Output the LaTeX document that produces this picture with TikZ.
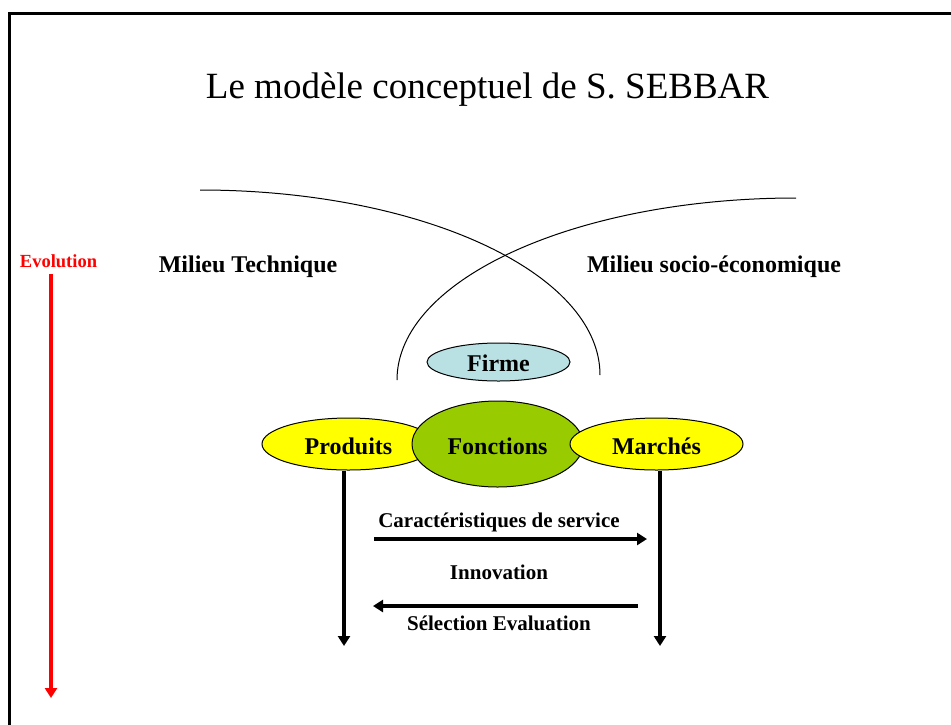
\documentclass[tikz,border=0pt]{standalone}
\usepackage{fontspec}
\setmainfont{Liberation Serif}
\usetikzlibrary{shapes.geometric,arrows.meta}
\definecolor{firmecol}{RGB}{185,224,227}
\definecolor{foncol}{RGB}{153,204,0}
\definecolor{jaune}{RGB}{255,255,0}
\definecolor{rouge}{RGB}{255,0,0}
\tikzset{
  lbl/.style={font=\fontsize{24}{26}\selectfont\bfseries, inner sep=0pt, anchor=base},
  mid/.style={font=\fontsize{21}{23}\selectfont\bfseries, inner sep=0pt, anchor=base},
  ell/.style={ellipse, draw=black, line width=1pt, inner sep=0pt, text depth=0pt, font=\fontsize{24}{26}\selectfont\bfseries},
  fleche/.style={line width=3.5pt, -{Triangle[width=12pt,length=10pt]}},
  courbe/.style={line width=1pt}
}
\begin{document}
\begin{tikzpicture}[x=1pt,y=-1pt]
\useasboundingbox (0,0) rectangle (951,724);
% frame
\draw[line width=3pt] (9,740) -- (9,13) -- (960,13);
% title
\node[font=\fontsize{37}{40}\selectfont, inner sep=0pt, anchor=base] (title) at (487.5,98) {Le modèle conceptuel de S. SEBBAR};
% arcs
\draw[courbe] (200,190) .. controls (420.9,190) and (600,272.8) .. (600,375);
\draw[courbe] (796,198) .. controls (575.6,198) and (397,279.5) .. (397,380);
% labels
\node[lbl] (tech) at (248,272) {Milieu Technique};
\node[lbl] (socio) at (714,272) {Milieu socio-économique};
\node[font=\fontsize{18.5}{20}\selectfont\bfseries, text=rouge, inner sep=0pt, anchor=base] (evol) at (58.5,267) {Evolution};
% ellipses
\node[ell, text height=18pt, fill=firmecol, minimum width=143pt, minimum height=38pt] (firme) at (498.5,362) {Firme};
\node[ell, text height=20pt, fill=jaune, minimum width=173pt, minimum height=52pt] (prod) at (348.5,444) {Produits};
\node[ell, text height=20pt, fill=foncol, minimum width=171pt, minimum height=86pt] (fonc) at (497.5,444) {Fonctions};
\node[ell, text height=20pt, fill=jaune, minimum width=173pt, minimum height=52pt] (marc) at (656.5,444) {Marchés};
% vertical arrows
\coordinate (pend) at (344,646);
\coordinate (mend) at (660,646);
\draw[fleche] (prod.south -| pend) -- (pend);
\draw[fleche] (marc.south -| mend) -- (mend);
% horizontal arrows
\coordinate (h1a) at (374,539);
\coordinate (h1b) at (647,539);
\coordinate (h2a) at (638,606);
\coordinate (h2b) at (373,606);
\draw[fleche] (h1a) -- (h1b);
\draw[fleche] (h2a) -- (h2b);
\node[mid] (carac) at (499,527) {Caractéristiques de service};
\node[mid] (innov) at (499,579) {Innovation};
\node[mid] (selec) at (499,630) {Sélection Evaluation};
% red arrow
\coordinate (evtop) at (51,274);
\coordinate (evbot) at (51,698);
\draw[line width=3.5pt, draw=rouge, -{Triangle[width=12pt,length=10pt]}, rouge] (evtop) -- (evbot);
\end{tikzpicture}
\end{document}
